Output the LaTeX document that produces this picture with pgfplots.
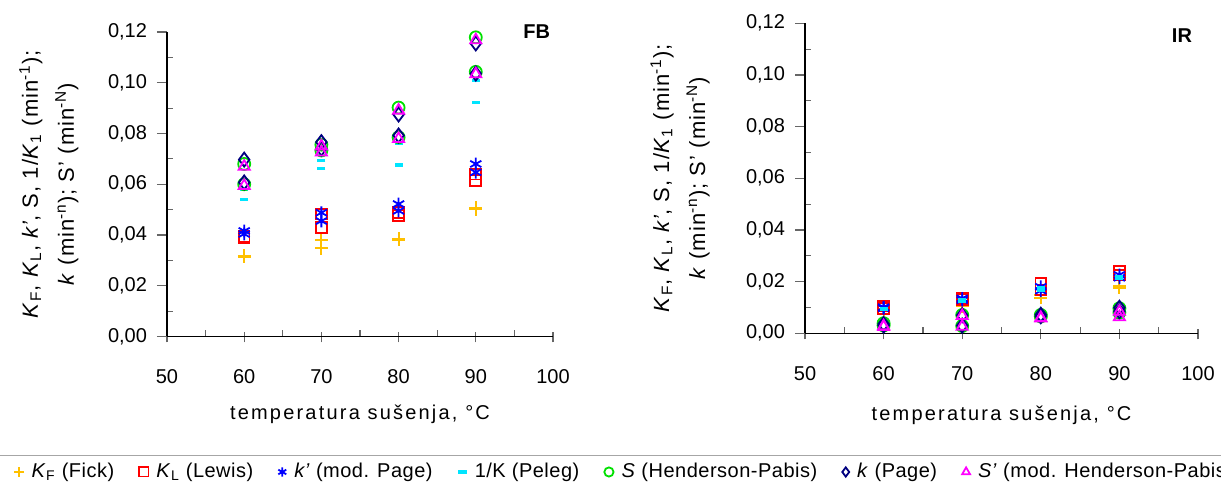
\documentclass[border=0pt]{standalone}
\usepackage{fontspec}
\setmainfont{Liberation Sans}
\usepackage{pgfplots}
\pgfplotsset{compat=1.18}
\definecolor{cF}{HTML}{FFC000}
\definecolor{cL}{HTML}{FF0000}
\definecolor{cP}{HTML}{0000FF}
\definecolor{cK}{HTML}{00E5FF}
\definecolor{cS}{HTML}{00E000}
\definecolor{cG}{HTML}{000080}
\definecolor{cM}{HTML}{FF00FF}
\pgfplotsset{
  myax/.style={
    scale only axis, axis lines=left, axis line style={-, black, line width=0.6pt},
    clip=false,
    font=\fontsize{10}{12}\selectfont,
    xmin=50, xmax=100, ymin=0, ymax=0.12,
    xtick={50,60,70,80,90,100}, xticklabels={50,60,70,80,90,100},
    ytick={0,0.02,0.04,0.06,0.08,0.10,0.12},
    yticklabels={{0,00},{0,02},{0,04},{0,06},{0,08},{0,10},{0,12}},
    minor x tick num=1, minor y tick num=1,
    tick align=inside, major tick length=5pt, minor tick length=3pt,
    tick style={black!60, line width=0.6pt},
    major y tick style={xshift=-5pt},
    major x tick style={yshift=-3pt},
    xticklabel shift=13pt, yticklabel shift=6.5pt,
    xlabel={\addfontfeatures{LetterSpace=11}temperatura sušenja, °C},
    ylabel={\addfontfeatures{LetterSpace=5}\textit{K}\textsubscript{F}, \textit{K}\textsubscript{L}, \textit{k’}, S, 1/\textit{K}\textsubscript{1} (min\textsuperscript{-1});\\[5pt] \addfontfeatures{LetterSpace=5}\textit{k} (min\textsuperscript{-n}); S’ (min\textsuperscript{-N})},
    ylabel style={align=center, anchor=center, font=\fontsize{11}{13}\selectfont},
    only marks,
  },
  sF/.style={mark=+, color=cF, mark size=3.2pt, line width=1pt},
  sL/.style={mark=square, color=cL, mark size=2.7pt, line width=0.9pt},
  sP/.style={mark=asterisk, color=cP, mark size=3.2pt, line width=0.9pt},
  sK/.style={mark=-, color=cK, mark size=2pt, line width=1.6pt},
  sS/.style={mark=o, color=cS, mark size=3pt, line width=0.9pt},
  sG/.style={mark=diamond, color=cG, mark size=3.5pt, line width=0.9pt},
  sM/.style={mark=triangle, color=cM, mark size=3.2pt, line width=0.9pt},
}
\begin{document}
\begin{tikzpicture}[x=1pt,y=1pt]
\begin{axis}[myax, at={(83.5pt,74.25pt)}, anchor=south west,
  width=193pt, height=152.25pt,
  xlabel style={at={(axis description cs:0.5,-0.256)}, anchor=center},
  ylabel style={at={(axis description cs:-0.306,0.5)}},
  legend columns=7,
  legend style={at={(axis description cs:-0.412,-0.445)}, anchor=west, draw=none, fill=none,
    font=\fontsize{10}{12}\selectfont\addfontfeatures{LetterSpace=2.5},
    /tikz/every odd column/.append style={column sep=2pt},
    /tikz/every even column/.append style={column sep=10.5pt}},
  legend image post style={mark size=2.3pt},
  legend cell align=left,
]
\addplot[sF] coordinates {(60,0.0318) (60,0.0314) (70,0.0379) (70,0.0347) (80,0.0385) (80,0.0381) (90,0.0507) (90,0.0502)};
\addlegendentry{\textit{K}\textsubscript{F} (Fick)}
\addplot[sL] coordinates {(60,0.0395) (60,0.0390) (70,0.0482) (70,0.0429) (80,0.0488) (80,0.0478) (90,0.0640) (90,0.0614)};
\addlegendentry{\textit{K}\textsubscript{L} (Lewis)}
\addplot[sP] coordinates {(60,0.0416) (60,0.0404) (70,0.0488) (70,0.0455) (80,0.0522) (80,0.0495) (90,0.0680) (90,0.0647)};
\addlegendentry{\textit{k’} (mod. Page)}
\addplot[sK] coordinates {(60,0.0580) (60,0.0540) (70,0.0693) (70,0.0663) (80,0.0762) (80,0.0676) (90,0.1010) (90,0.0922)};
\addlegendentry{1/K (Peleg)}
\addplot[sS] coordinates {(60,0.0680) (60,0.0600) (70,0.0756) (70,0.0733) (80,0.0902) (80,0.0785) (90,0.1179) (90,0.1043)};
\addlegendentry{\textit{S} (Henderson-Pabis)}
\addplot[sG] coordinates {(60,0.0697) (60,0.0607) (70,0.0766) (70,0.0740) (80,0.0875) (80,0.0792) (90,0.1155) (90,0.1036)};
\addlegendentry{\textit{k} (Page)}
\addplot[sM] coordinates {(60,0.0670) (60,0.0594) (70,0.0750) (70,0.0726) (80,0.0891) (80,0.0779) (90,0.1168) (90,0.1034)};
\addlegendentry{\textit{S’} (mod. Henderson-Pabis)}
\node[font=\fontsize{10}{12}\selectfont\bfseries] at (axis cs:97.9,0.1202) {FB};
\end{axis}
\begin{axis}[myax, at={(402.5pt,75.85pt)}, anchor=south west,
  width=196.5pt, height=155pt,
  xlabel style={at={(axis description cs:0.5,-0.263)}, anchor=center},
  ylabel style={at={(axis description cs:-0.318,0.5)}},
]
\addplot[sF] coordinates {(60,0.0095) (60,0.0090) (70,0.0112) (70,0.0105) (80,0.0137) (80,0.0150) (90,0.0183) (90,0.0175)};
\addplot[sL] coordinates {(60,0.0105) (60,0.0095) (70,0.0135) (70,0.0130) (80,0.0194) (80,0.0168) (90,0.0239) (90,0.0225)};
\addplot[sP] coordinates {(60,0.0101) (60,0.0097) (70,0.0135) (70,0.0128) (80,0.0180) (80,0.0165) (90,0.0226) (90,0.0215)};
\addplot[sK] coordinates {(60,0.0093) (60,0.0097) (70,0.0129) (70,0.0124) (80,0.0175) (80,0.0165) (90,0.0213) (90,0.0220)};
\addplot[sS] coordinates {(60,0.0039) (60,0.0030) (70,0.0071) (70,0.0028) (80,0.0071) (80,0.0065) (90,0.0097) (90,0.0080)};
\addplot[sG] coordinates {(60,0.0036) (60,0.0030) (70,0.0070) (70,0.0030) (80,0.0072) (80,0.0066) (90,0.0099) (90,0.0085)};
\addplot[sM] coordinates {(60,0.0028) (60,0.0025) (70,0.0068) (70,0.0026) (80,0.0058) (80,0.0060) (90,0.0084) (90,0.0063)};
\node[font=\fontsize{10}{12}\selectfont\bfseries] at (axis cs:97.96,0.1151) {IR};
\end{axis}
\draw[black!35, line width=0.6pt] (0,14.65) -- (610.5,14.65);
\pgfresetboundingbox
\useasboundingbox (0,0) rectangle (610.5,242.5);
\end{tikzpicture}
\end{document}
